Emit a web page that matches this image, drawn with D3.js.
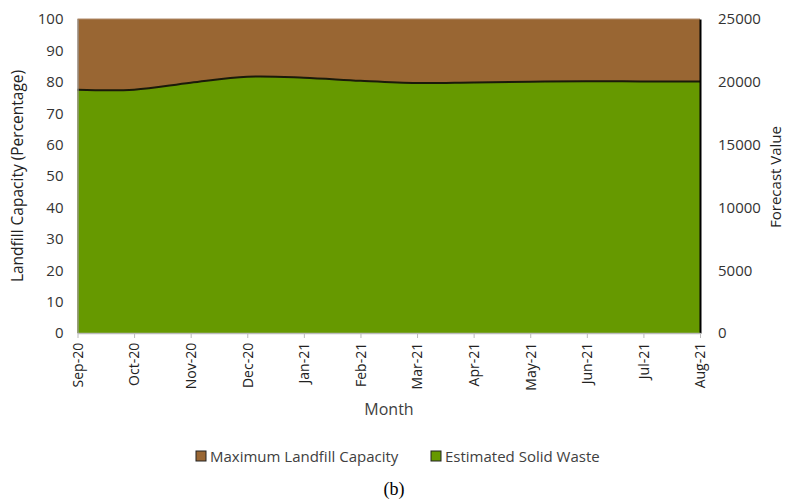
<!DOCTYPE html>
<html><head><meta charset="utf-8">
<script src="https://cdn.jsdelivr.net/npm/d3@7"></script>
<style>body{margin:0;background:#fff}svg{display:block}</style>
</head><body><svg id="c" width="786" height="503" font-family="Open Sans, sans-serif"></svg>
<script>
const months = ["Sep-20","Oct-20","Nov-20","Dec-20","Jan-21","Feb-21","Mar-21","Apr-21","May-21","Jun-21","Jul-21","Aug-21"];
const solidWaste = [77.5,77.5,79.7,81.6,81.3,80.3,79.6,79.8,80.0,80.2,80.1,80.1];
const maxCapacity = [100,100,100,100,100,100,100,100,100,100,100,100];
const leftTicks = [0,10,20,30,40,50,60,70,80,90,100];
const rightTicks = [0,5000,10000,15000,20000,25000];
const seriesNames = ["Maximum Landfill Capacity","Estimated Solid Waste"];
const colors = ["#996633","#669900"];

const svg = d3.select("#c");
const m = {l:77.5, r:700, t:19, b:333};
const x = d3.scalePoint().domain(months).range([m.l, m.r]);
const y = d3.scaleLinear().domain([0,100]).range([m.b, m.t]);
const y2 = d3.scaleLinear().domain([0,25000]).range([m.b, m.t]);

const curve = d3.curveCatmullRom.alpha(0.5);
svg.append("path").datum(months.map((d,i)=>({m:d,v:maxCapacity[i]})))
  .attr("fill",colors[0])
  .attr("d", d3.area().x(d=>x(d.m)).y0(y(0)).y1(d=>y(d.v)));
const wd = months.map((d,i)=>({m:d,v:solidWaste[i]}));
svg.append("path").datum(wd).attr("fill",colors[1])
  .attr("d", d3.area().x(d=>x(d.m)).y0(y(0)).y1(d=>y(d.v)).curve(curve));
svg.append("path").datum(wd).attr("fill","none").attr("stroke","#1a1a0a").attr("stroke-width",2)
  .attr("d", d3.line().x(d=>x(d.m)).y(d=>y(d.v)).curve(curve));
svg.append("line").attr("x1",m.l).attr("x2",m.r).attr("y1",m.t).attr("y2",m.t).attr("stroke","#b08a6a").attr("stroke-width",1);

const gl = svg.append("g").attr("transform",`translate(${m.l},0)`)
  .call(d3.axisLeft(y).tickValues(leftTicks).tickSize(0).tickPadding(14));
gl.select(".domain").attr("stroke","#999").attr("stroke-width",1.2);
gl.selectAll("text").style("font-size","15px").style("font-family","Open Sans").attr("fill","#333");

const gr = svg.append("g").attr("transform",`translate(${m.r},0)`)
  .call(d3.axisRight(y2).tickValues(rightTicks).tickFormat(d3.format("d")).tickSize(0).tickPadding(18));
gr.select(".domain").attr("stroke","#000").attr("stroke-width",2);
gr.selectAll("text").style("font-size","15px").style("font-family","Open Sans").attr("fill","#333");

const gb = svg.append("g").attr("transform",`translate(0,${m.b})`)
  .call(d3.axisBottom(x).tickSize(5).tickSizeOuter(0).tickPadding(6));
gb.select(".domain").attr("stroke","#bbb").attr("stroke-width",1.5);
gb.selectAll(".tick line").attr("stroke","#bbb");
gb.selectAll("text").style("font-size","14px").style("font-family","Open Sans").attr("fill","#222")
  .attr("text-anchor","end").attr("transform","rotate(-90)").attr("dx","-0.7em").attr("dy","0.35em").attr("y",0);

svg.append("text").attr("transform","translate(23,176) rotate(-90)").attr("text-anchor","middle")
  .style("font-size","15.5px").attr("fill","#222").text("Landfill Capacity (Percentage)");
svg.append("text").attr("transform","translate(781,177) rotate(-90)").attr("text-anchor","middle")
  .style("font-size","15px").attr("fill","#222").text("Forecast Value");
svg.append("text").attr("x",389).attr("y",415).attr("text-anchor","middle")
  .style("font-size","16px").attr("fill","#404040").text("Month");

const lg = [{n:seriesNames[0],c:colors[0],x:196},{n:seriesNames[1],c:colors[1],x:431}];
lg.forEach(d=>{
  svg.append("rect").attr("x",d.x).attr("y",451).attr("width",10).attr("height",10).attr("fill",d.c).attr("stroke","#222").attr("stroke-width",1);
  svg.append("text").attr("x",d.x+14).attr("y",462).style("font-size","15px").attr("fill","#404040").text(d.n);
});
svg.append("text").attr("x",394).attr("y",495).attr("text-anchor","middle").style("font-family","Liberation Serif")
  .style("font-size","18px").attr("fill","#000").text("(b)");
</script></body></html>
